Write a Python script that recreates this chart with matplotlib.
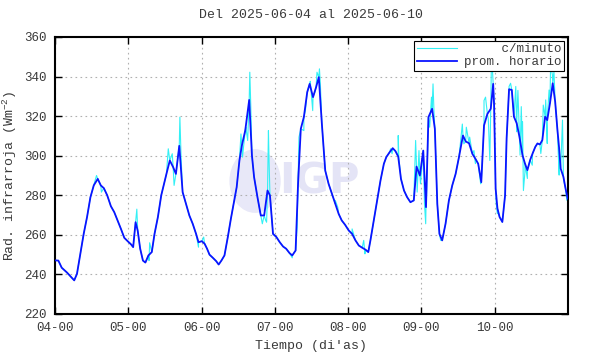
import matplotlib
matplotlib.use("Agg")
import matplotlib.pyplot as plt
from matplotlib.patches import Ellipse

# hourly mean vertices (hours since 2025-06-04 00:00, W/m2)
prom_h = [0, 1.1, 2.2, 3.9, 6.3, 7.2, 8.3, 9.4, 10.5, 11.6, 12.7, 14.0, 15.0, 16.0,
          17.1, 18.3, 19.4, 20.5, 21.6, 22.7, 23.8, 24.9, 25.6, 26.4, 27.1, 27.9,
          28.8, 29.6, 30.6, 31.7, 32.6, 33.7, 34.8, 35.7, 36.5, 37.6, 38.7, 39.6,
          40.7, 41.8, 42.9, 44.0, 45.1, 46.2, 47.0, 48.1, 49.0, 49.8,
          50.6, 51.7, 52.8, 53.6, 54.5, 55.5, 56.6, 57.6, 58.7, 59.5, 60.4, 61.2,
          62.3, 63.6, 64.5, 65.2, 66.3, 67.4, 68.5, 69.6, 70.4, 71.4, 72.5, 73.6,
          74.7, 75.7, 76.8, 77.7, 78.8, 79.6, 80.5, 81.5, 82.6, 83.4, 84.5, 85.5,
          86.4, 87.4, 88.5, 89.6, 90.7, 91.8, 92.9, 93.9, 95.0,
          96.2, 97.3, 98.4, 99.5, 100.6, 101.7, 102.6, 103.3, 104.4, 105.5, 106.6,
          107.7, 108.5, 109.6, 110.6, 111.5, 112.4, 113.3, 114.3, 115.3, 116.4,
          117.5, 118.4, 119.5, 120.6, 121.5, 122.3, 123.5, 124.4, 125.2, 125.9,
          126.8, 127.9, 129.0, 130.1, 131.2, 132.3, 133.6, 134.5, 135.6, 136.7,
          137.7, 138.6, 139.6, 140.5, 141.6, 142.7, 143.5, 143.8,
          144.3, 144.9, 145.6, 146.5, 147.4, 147.9, 148.7, 149.6, 150.3, 151.2,
          152.1, 153.1, 153.9, 154.7, 155.6, 156.4, 157.3, 158.0, 158.8, 159.6,
          160.5, 161.2, 162.1, 163.0, 163.8, 164.5, 165.1, 165.6, 166.5, 167.2, 167.9]
prom_v = [247.1, 247, 243.4, 241, 237, 240.3, 250.4, 260.5, 269, 279, 285, 288.3, 285, 283.6,
          280, 274.5, 271.5, 267.3, 263, 258.5, 256.8, 255.2, 253.8, 266.4, 262, 253,
          247, 246, 249.6, 251.3, 260.5, 269, 280, 285.8, 290.8, 297.6, 294.2, 290.8,
          305, 281.6, 275.7, 269.8, 265.6, 260.5, 256.3, 256.8, 255.5, 253,
          250, 248.4, 246.7, 245, 247, 249.6, 258.9, 268.1, 277.4, 284.1, 297.6, 305.2,
          312.7, 328.2, 300.1, 289.2, 279.1, 269.8, 269.8, 282.4, 279.9, 260.5, 258.9, 256.3,
          254.1, 253, 250.8, 249.6, 252.1, 285.8, 313.6, 319.5, 332.1, 336.3, 329.6, 334.6,
          339.7, 316.1, 292.5, 285.8, 280.7, 275.7, 270.6, 267.3, 265.1,
          262.2, 260.5, 257.2, 254.6, 253.5, 252.5, 251.3, 257.2, 267.3, 277.4, 287.5,
          295.9, 299.3, 301.8, 303.8, 302.3, 299.6, 288.3, 282.4, 279.1, 276.5,
          277.4, 294.5, 290, 302.6, 274, 319.5, 323.7, 313.6, 275.7, 260.5,
          257.2, 265.6, 277.4, 285, 290.8, 299.3, 310.2, 307.2, 306.3, 300.9,
          298.4, 295.9, 286.6, 315.3, 321.1, 323.7, 336.3, 325.6,
          283.4, 273.3, 269, 266.5, 280, 308.8, 333.6, 333.2, 319.7, 316.4,
          309.6, 300.3, 296.1, 292.7, 297.8, 301.1, 304.5, 306.2, 305.7, 307.9,
          319.7, 318, 326.5, 336.6, 327.3, 313.8, 303.7, 293.5, 289.3, 283.4, 278.3]

# extra excursions of the per-minute record
spike_h = [13.6, 15.2, 26.8, 30.8, 31.0, 37.1, 38.4, 39.0, 40.9, 41.3, 47.0, 48.7,
           60.9, 61.4, 62.5, 63.1, 63.8, 64.1, 67.9, 69.0, 69.3, 69.9, 70.1, 77.7,
           79.3, 79.9, 81.5, 82.0, 83.6, 84.4, 85.1, 85.8, 86.6, 86.9, 91.8, 92.6,
           97.3, 101.1, 101.5, 109.9, 110.4, 112.4, 112.6, 118.1, 118.6, 119.2, 119.7,
           121.0, 121.4, 121.7, 122.7, 123.3, 123.8, 124.1, 126.3, 133.4, 133.9, 134.7,
           135.8, 137.2, 137.7, 139.4, 140.5, 141.0, 141.9, 142.4, 142.9, 143.2,
           144.5, 144.9, 148.7, 149.2, 150.9, 151.2, 151.6, 152.3, 152.7, 153.1, 153.4,
           153.9, 154.7, 156.3, 159.1, 159.9, 160.7, 161.2, 161.8, 162.3, 162.9, 163.4,
           165.1, 166.2, 166.7, 167.6]
spike_v = [290, 281.6, 273, 247, 256, 303.5, 301, 285, 319.5, 299, 253.8, 258.9,
           311, 299.3, 314.4, 307.7, 342.2, 326.2, 265.6, 267.3, 266.4, 312.7, 297.6, 248.4,
           263.9, 309.4, 312.7, 322.8, 337.6, 322.8, 332.1, 342.2, 343.9, 336.3, 277.4, 274,
           263, 257.2, 250.4, 303.5, 301, 310.2, 299, 307.7, 281.6, 302.6, 285.8,
           275.7, 265.6, 280.7, 314.4, 329.6, 336.3, 322.8, 257.2, 316, 306, 314.4,
           309.4, 302.6, 296, 285.8, 327.9, 329.6, 318.6, 297.6, 344.7, 345,
           275.7, 270.7, 335, 336.6, 335, 312.1, 333, 300.3, 324.8, 317.2, 282.4,
           291.7, 288.5, 295.2, 301.1, 325.6, 328.2, 306.2, 333.2, 345.9, 340.8, 342.5,
           290.2, 318, 286.8, 277.5]

day_labels = ["04-00", "05-00", "06-00", "07-00", "08-00", "09-00", "10-00"]

plt.rcParams["font.family"] = ["Liberation Mono", "DejaVu Sans Mono"]
plt.rcParams["mathtext.default"] = "regular"
txt = "#3a3a3a"

minuto = sorted(zip(prom_h + spike_h, prom_v + spike_v))
min_x = [h / 24 for h, _ in minuto]
min_y = [v for _, v in minuto]

fig = plt.figure(figsize=(5.9, 3.54), dpi=100)
ax = fig.add_axes([0.0932, 0.113, 0.8695, 0.7825])

# faint IGP watermark
ax.add_patch(Ellipse((0.39, 0.48), 0.1, 0.23, transform=ax.transAxes,
                     color="#e8e8f8", lw=0, zorder=0))
ax.text(0.515, 0.48, "IGP", transform=ax.transAxes, fontsize=30, fontweight="bold",
        family="DejaVu Sans", color="#e4e4f6", ha="center", va="center", zorder=0)

ax.plot(min_x, min_y, color="#33f0f5", lw=0.8, label="     c/minuto", zorder=2)
ax.plot([h / 24 for h in prom_h], prom_v, color="#0a14ff", lw=1.3,
        label="prom. horario", zorder=3)

ax.set_xlim(0, 7)
ax.set_ylim(220, 360)
ax.set_xticks(range(len(day_labels)))
ax.set_xticklabels(day_labels)
ax.set_yticks(range(220, 361, 20))
ax.grid(True, color="#b0b0b0", ls=(0, (1.5, 3)), lw=0.8)
ax.tick_params(direction="in", length=5, width=1, top=True, right=True,
               labelsize=9, labelcolor=txt, pad=6)
for s in ax.spines.values():
    s.set_linewidth(1.5)

ax.set_title("Del 2025-06-04 al 2025-06-10", fontsize=9.5, color=txt, pad=14)
ax.set_xlabel("Tiempo (di'as)", fontsize=9.5, color=txt, labelpad=4)
ax.set_ylabel("Rad. infrarroja (Wm$^{-2}$)", fontsize=9.5, color=txt, labelpad=4)

leg = ax.legend(loc="upper right", fontsize=9, frameon=True, fancybox=False,
                edgecolor="black", framealpha=1, borderaxespad=0.3,
                handlelength=3.2, borderpad=0.2, labelspacing=0.1, handletextpad=0.6)
leg.get_frame().set_linewidth(0.8)
for t in leg.get_texts():
    t.set_color(txt)

fig.savefig("out.png", dpi=100)
